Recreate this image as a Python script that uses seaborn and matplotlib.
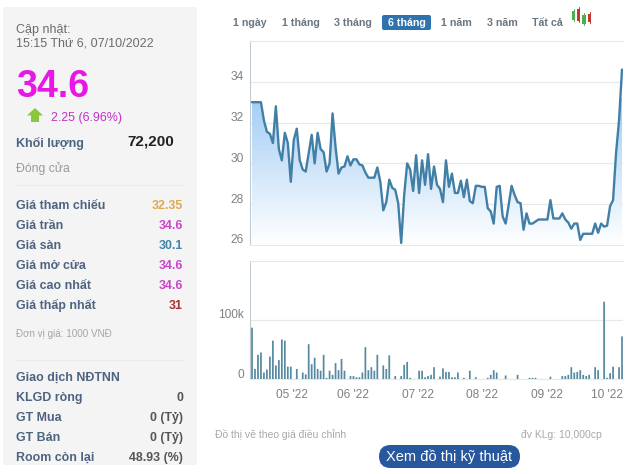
import numpy as np
import pandas as pd
import seaborn as sns
import matplotlib.pyplot as plt
from matplotlib.colors import LinearSegmentedColormap
from matplotlib.patches import FancyBboxPatch, Polygon, Rectangle
from matplotlib.transforms import ScaledTranslation

# Chart data
price = [33, 33, 33, 33, 32.1, 31.55, 31.45, 31, 32.8, 30.7, 30.15, 31.5, 31, 29.1, 31.15, 31.7,
         30.15, 29.7, 29.6, 30.5, 31.4, 30, 31.5, 30.7, 30.55, 29.6, 30, 32.45, 30.8, 29.5, 29.8,
         29.85, 30.35, 29.9, 30.2, 30.2, 29.95, 29.9, 29.55, 29.3, 29.3, 29.3, 29.8, 29.1, 27.7,
         28.1, 29.2, 28.8, 28.7, 28.05, 26.1, 28.45, 30, 29.7, 28.65, 30.4, 28.55, 30.15, 28.95,
         30.45, 28.75, 29.85, 28.95, 28.75, 28.1, 30.15, 28.85, 29.5, 28.55, 28.55, 29.15, 28.35,
         29.2, 28.15, 28.05, 28.9, 28.9, 28.85, 28.85, 27.8, 27.65, 27.05, 28.85, 28.9, 27.4, 27.05,
         27.95, 28.9, 28.45, 28.1, 28.05, 26.75, 27.55, 27.05, 27.05, 27.15, 27.25, 27.25, 27.25,
         27.25, 28.2, 27.3, 27.3, 27.3, 27.55, 27.25, 27.1, 26.8, 27.05, 27.05, 26.25, 26.55, 26.55,
         26.55, 26.55, 27.05, 26.6, 27.05, 26.9, 26.95, 27.9, 28.2, 30.5, 32.1, 34.6]
volume = [87, 17, 41, 45, 11, 16, 38, 65, 23, 32, 67, 65, 21, 21, 0, 17, 0, 11, 8, 59, 25, 36, 17,
          14, 41, 2, 14, 7, 27, 15, 34, 14, 0, 5, 5, 3, 3, 11, 54, 15, 20, 14, 41, 0, 23, 17, 40, 0,
          5, 0, 5, 24, 29, 2, 0, 0, 14, 14, 3, 5, 7, 20, 0, 4, 18, 12, 12, 3, 3, 11, 0, 2, 0, 14, 0,
          3, 0, 0, 0, 2, 7, 15, 11, 0, 0, 6, 0, 0, 0, 7, 0, 0, 0, 2, 2, 2, 0, 0, 0, 0, 4, 0, 0, 0, 5,
          5, 7, 20, 11, 12, 15, 7, 5, 7, 0, 20, 15, 0, 131, 2, 10, 21, 0, 20, 72.2]
month_days = [13.4, 33.8, 55.6, 77, 98.9, 119]
month_labels = ["05 '22", "06 '22", "07 '22", "08 '22", "09 '22", "10 '22"]
range_labels = ["1 ngày", "1 tháng", "3 tháng", "6 tháng", "1 năm", "3 năm", "Tất cả"]
price_rows = ["Giá tham chiếu", "Giá trần", "Giá sàn", "Giá mở cửa", "Giá cao nhất", "Giá thấp nhất"]
price_vals = ["32.35", "34.6", "30.1", "34.6", "34.6", "31"]
foreign_rows = ["KLGD ròng", "GT Mua", "GT Bán", "Room còn lại"]
foreign_vals = ["0", "0 (Tỷ)", "0 (Tỷ)", "48.93 (%)"]

df = pd.DataFrame({"day": np.arange(len(price)), "price": price, "volume": np.array(volume) * 1000})

sns.set_theme(style="white")
plt.rcParams['font.family'] = ['Liberation Sans', 'DejaVu Sans']

W, H = 630, 474
fig = plt.figure(figsize=(W / 100, H / 100), dpi=100)


def px_axes(left, top, right, bottom):
    return fig.add_axes([left / W, 1 - bottom / H, (right - left) / W, (bottom - top) / H])


# Page layer in pixel coordinates
bg = fig.add_axes([0, 0, 1, 1], zorder=0)
bg.set_xlim(0, W)
bg.set_ylim(H, 0)
bg.axis('off')

bg.add_patch(Rectangle((3, 7), 194, 458, color='#f4f4f5', lw=0))
bg.plot([16, 183], [185, 185], color='#ebebeb', lw=0.8)
bg.plot([16, 183], [360, 360], color='#ebebeb', lw=0.8)

LABEL = '#4d6480'
bg.text(16, 32.5, "Cập nhật:", fontsize=9, color='#6b6b6b', va='baseline')
bg.text(16, 46.7, "15:15 Thứ 6, 07/10/2022", fontsize=9, color='#6b6b6b', va='baseline')
bg.text(16, 97, "34.6", fontsize=27, color='#e817e8', weight='bold', va='baseline')
bg.add_patch(Polygon([(35, 108), (43, 115.5), (39, 115.5), (39, 122), (31, 122), (31, 115.5), (27, 115.5)],
                     color='#8cc63f', lw=0))
bg.text(51, 120.5, "2.25 (6.96%)", fontsize=8.9, color='#c032c4', va='baseline')
bg.text(16, 146.5, "Khối lượng", fontsize=9, color=LABEL, weight='bold', va='baseline')
bg.text(174, 145, "72,200", fontsize=11, color='#222222', weight='bold', va='baseline', ha='right')
bg.text(16, 172, "Đóng cửa", fontsize=8.8, color='#9a9a9a', va='baseline')

val_colors = ['#e0a84e', '#cc44cc', '#3f86a8', '#cc44cc', '#cc44cc', '#a83232']
for i, (name, val) in enumerate(zip(price_rows, price_vals)):
    y = 209 + i * 20
    bg.text(16, y, name, fontsize=8.9, color=LABEL, weight='bold', va='baseline')
    bg.text(183, y, val, fontsize=8.9, color=val_colors[i], weight='bold', va='baseline', ha='right')
bg.text(16, 337, "Đơn vị giá: 1000 VNĐ", fontsize=7.1, color='#a5a5a5', va='baseline')

bg.text(16, 381, "Giao dịch NĐTNN", fontsize=8.9, color=LABEL, weight='bold', va='baseline')
for i, (name, val) in enumerate(zip(foreign_rows, foreign_vals)):
    y = 401 + i * 20
    bg.text(16, y, name, fontsize=8.9, color=LABEL, weight='bold', va='baseline')
    bg.text(183, y, val, fontsize=8.9, color='#555555', weight='bold', va='baseline', ha='right')

# Range buttons
range_x = [250, 300.5, 353, 406.5, 456, 502, 547]
bg.add_patch(FancyBboxPatch((382, 15), 49, 15, boxstyle="round,pad=0,rounding_size=2",
                            color='#2f72ad', lw=0))
for x, lab in zip(range_x, range_labels):
    active = lab == "6 tháng"
    bg.text(x, 26, lab, fontsize=7.7, weight='bold', ha='center', va='baseline',
            color='white' if active else '#6a7680')

# Candlestick icon
for x, top, bot, col in [(573.5, 9, 21, '#4caf50'), (578.5, 7, 22, '#c0392b'),
                         (584, 13, 25, '#4caf50'), (589.5, 12, 23, '#c0392b')]:
    bg.plot([x, x], [top, bot], color=col, lw=0.7)
    bg.add_patch(Rectangle((x - 1.9, top + 1.5), 3.8, bot - top - 3, color=col, lw=0))

# Notes and big button
bg.text(215, 438, "Đồ thị vẽ theo giá điều chỉnh", fontsize=7.5, color='#a8a8a8', va='baseline')
bg.text(521, 438, "đv KLg: 10,000cp", fontsize=7.5, color='#a8a8a8', va='baseline')
bg.add_patch(FancyBboxPatch((379, 445), 141, 23, boxstyle="round,pad=0,rounding_size=11.5",
                            color='#27579c', lw=0))
bg.text(449.5, 461.5, "Xem đồ thị kỹ thuật", fontsize=10.5, color='white', ha='center', va='baseline')

GRID = '#e6e8ea'
xlim = (-0.67, 124.33)
lift = ScaledTranslation(0, 0.06, fig.dpi_scale_trans)

# Price panel
ax = px_axes(250, 41, 623, 245)
ax.patch.set_alpha(0)
sns.lineplot(data=df, x='day', y='price', color='#417fa6', lw=1.7, errorbar=None, ax=ax, zorder=3)
shape = ax.fill_between(df['day'], df['price'], 26, color='none', lw=0)
cmap = LinearSegmentedColormap.from_list('fade', ['#ffffff', '#a3cdf4'])
im = ax.imshow(np.linspace(1, 0, 128).reshape(-1, 1), cmap=cmap, vmin=0, vmax=1, aspect='auto',
               extent=[xlim[0], xlim[1], 26, 33.2], zorder=1)
im.set_clip_path(shape.get_paths()[0], transform=ax.transData)
ax.set_xlim(*xlim)
ax.set_ylim(26, 36)
ax.set_yticks([26, 28, 30, 32, 34])
ax.set_xticks([])
ax.set_xlabel('')
ax.set_ylabel('')
ax.grid(axis='y', color=GRID, lw=0.9)
ax.set_axisbelow(True)
ax.tick_params(axis='y', length=0, pad=4.5, labelsize=8.6, labelcolor='#808080')

# Volume panel
ax2 = px_axes(250, 261, 623, 379)
ax2.patch.set_alpha(0)
sns.barplot(data=df, x='day', y='volume', native_scale=True, width=0.58, color='#54899f',
            saturation=1, linewidth=0, edgecolor='none', ax=ax2, zorder=3)
# keep every bar the same width instead of snapping to whole pixels
for bar in ax2.patches:
    bar.set_snap(False)
ax2.set_xlim(*xlim)
ax2.set_ylim(0, 200000)
ax2.set_yticks([0, 100000])
ax2.set_yticklabels(['0', '100k'])
ax2.set_xticks(month_days)
ax2.set_xticklabels(month_labels)
ax2.set_xlabel('')
ax2.set_ylabel('')
ax2.grid(axis='y', color=GRID, lw=0.9)
ax2.set_axisbelow(True)
ax2.tick_params(axis='y', length=0, pad=4.5, labelsize=8.6, labelcolor='#808080')
ax2.tick_params(axis='x', length=6.5, width=0.8, color='#e0e0e0', pad=1, labelsize=8.6, labelcolor='#808080')

for a in (ax, ax2):
    for side, spine in a.spines.items():
        spine.set_visible(True)
        spine.set_linewidth(0.8)
        spine.set_color('#c3ccd4' if side == 'left' else GRID)
    a.spines['right'].set_visible(False)
    for lab in a.get_yticklabels():
        lab.set_transform(lab.get_transform() + lift)

fig.savefig('out.png', dpi=100)
